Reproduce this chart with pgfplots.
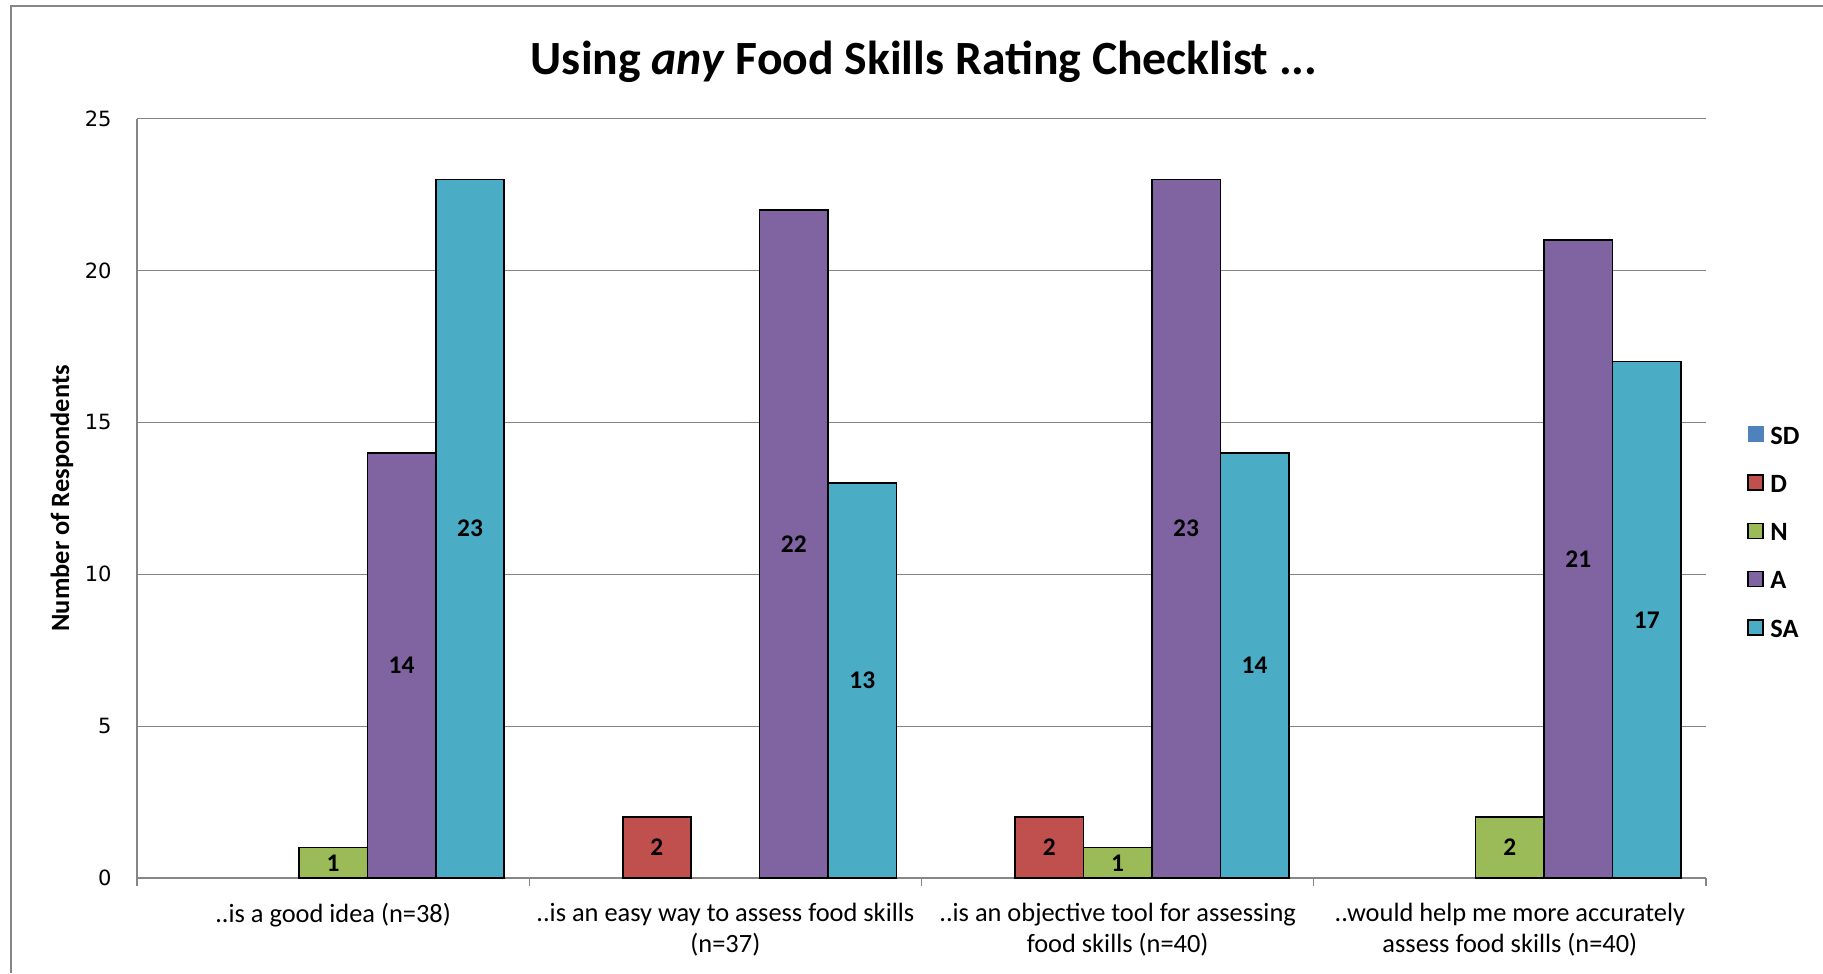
\documentclass[border=0pt]{standalone}
\usepackage{fontspec}
\setmainfont{Carlito}
\newfontfamily\tickfont{DejaVu Sans}
\usepackage{pgfplots}
\pgfplotsset{compat=1.18}

\definecolor{sdcol}{HTML}{4F81BD}
\definecolor{dcol}{HTML}{C0504D}
\definecolor{ncol}{HTML}{9BBB59}
\definecolor{acol}{HTML}{8064A2}
\definecolor{sacol}{HTML}{4BACC6}
\definecolor{axisgray}{HTML}{868686}

\pgfplotsset{
  sq legend/.style={legend image code/.code={\filldraw[##1] (0pt,-2.4pt) rectangle (7.5pt,5.1pt);}},
}

\begin{document}
\begin{tikzpicture}
% page and outer frame
\path[fill=white, use as bounding box] (0pt,0pt) rectangle (911.5pt,-486.5pt);
\draw[axisgray, line width=1pt] (5.5pt,-486.5pt) -- (5.5pt,-3pt) -- (911.5pt,-3pt);

\node[anchor=base, font=\bfseries\fontsize{23.85}{28}\selectfont] at (462pt,-37.2pt)
  {Using \textit{any} Food Skills Rating Checklist ...};

\begin{axis}[
  at={(68.5pt,-439pt)}, anchor=south west,
  width=784.5pt, height=379.7pt, scale only axis,
  ybar, bar width=0.1745,
  xmin=-0.5, xmax=3.5, ymin=0, ymax=25, enlargelimits=false,
  axis x line*=bottom, axis y line*=left,
  x axis line style={draw=axisgray, line width=1pt, -},
  y axis line style={draw=axisgray, line width=0.7pt, -},
  ytick={0,5,...,25},
  ymajorgrids, grid style={draw=axisgray, line width=0.6pt},
  /pgf/number format/assume math mode=true,
  yticklabel style={font=\tickfont\fontsize{10.5}{12}\selectfont, inner sep=0pt, xshift=-12.5pt},
  xtick={0,1,2,3},
  xticklabels={{..is a good idea (n=38)},
               {..is an easy way to assess food skills\\(n=37)},
               {..is an objective tool for assessing\\food skills (n=40)},
               {..would help me more accurately\\assess food skills (n=40)}},
  xticklabel style={align=center, font=\fontsize{13.2}{15.5}\selectfont, anchor=north, inner sep=0pt, yshift=-8pt},
  xtick style={draw=none}, ytick style={draw=none},
  extra x ticks={-0.5,0.5,1.5,2.5,3.5}, extra x tick labels={},
  extra x tick style={tick align=outside, major tick length=4pt,
    xtick style={draw=axisgray, line width=0.7pt}, grid=none},
  ylabel={Number of Respondents},
  every axis y label/.style={at={(axis description cs:-0.0478,0.5)}, rotate=90, anchor=center,
    font=\bfseries\fontsize{13.2}{15}\selectfont},
  visualization depends on={rawy \as \rawy},
  nodes near coords,
  every node near coord/.append style={anchor=center, text=black,
    font=\bfseries\fontsize{12.7}{14}\selectfont,
    shift={(axis direction cs:0,-\rawy/2)}},
  legend cell align=left,
  legend style={draw=none, fill=none, at={(axis description cs:1,0.4539)}, anchor=west,
    xshift=20.5pt, font=\bfseries\fontsize{13.2}{15}\selectfont,
    row sep=13.6pt, column sep=3.2pt, inner sep=0pt, nodes={inner sep=0pt}},
]
% SD: no responses in any statement
\addlegendimage{fill=sdcol, draw=sdcol, sq legend}
\addlegendentry{SD}
\addplot[fill=dcol, draw=black, line width=0.8pt, bar shift=-0.1745, sq legend]
  coordinates {(1,2) (2,2)};
\addlegendentry{D}
\addplot[fill=ncol, draw=black, line width=0.8pt, bar shift=0, sq legend]
  coordinates {(0,1) (2,1) (3,2)};
\addlegendentry{N}
\addplot[fill=acol, draw=black, line width=0.8pt, bar shift=0.1745, sq legend]
  coordinates {(0,14) (1,22) (2,23) (3,21)};
\addlegendentry{A}
\addplot[fill=sacol, draw=black, line width=0.8pt, bar shift=0.349, sq legend]
  coordinates {(0,23) (1,13) (2,14) (3,17)};
\addlegendentry{SA}
\end{axis}
\end{tikzpicture}
\end{document}
